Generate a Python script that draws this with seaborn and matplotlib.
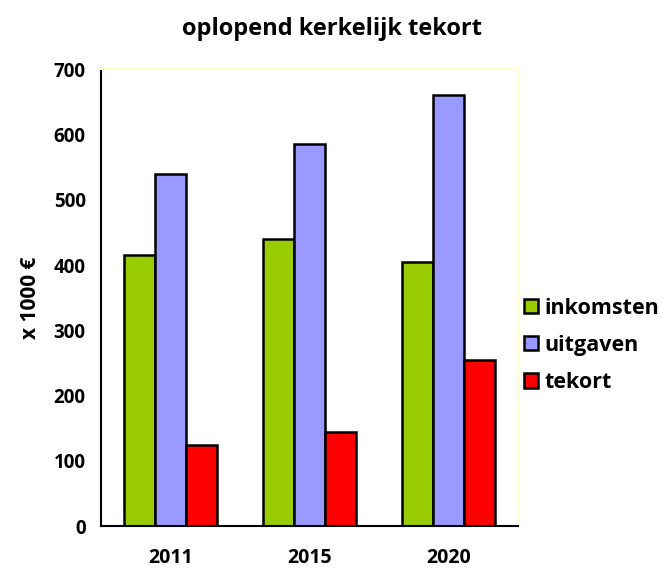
import matplotlib
matplotlib.use("Agg")
import matplotlib.pyplot as plt
import seaborn as sns
import pandas as pd

years = ["2011", "2015", "2020"]
inkomsten = [415, 440, 405]
uitgaven = [540, 585, 660]
tekort = [125, 145, 255]
series_names = ["inkomsten", "uitgaven", "tekort"]
colors = ["#99CC00", "#9999FF", "#FF0000"]

df = pd.DataFrame({
    "jaar": years * 3,
    "serie": [s for s in series_names for _ in years],
    "waarde": inkomsten + uitgaven + tekort,
})

sns.set_style("white")
plt.rcParams["font.family"] = ["Open Sans", "DejaVu Sans"]
plt.rcParams["font.weight"] = "bold"
plt.rcParams["text.color"] = "black"
plt.rcParams["axes.labelcolor"] = "black"
plt.rcParams["xtick.color"] = "black"
plt.rcParams["ytick.color"] = "black"

fig = plt.figure(figsize=(6.64, 5.72), dpi=100)
ax = fig.add_axes([0.152, 0.080, 0.628, 0.799])

sns.barplot(data=df, x="jaar", y="waarde", hue="serie", palette=colors,
            width=0.67, edgecolor="black", linewidth=1.8, saturation=1,
            ax=ax)

ax.set_ylim(0, 700)
ax.set_yticks(range(0, 701, 100))
ax.set_xlim(-0.5, 2.5)
ax.set_xticks([-0.5, 0.5, 1.5, 2.5])
ax.set_xticklabels([])
ax.set_xticks([0, 1, 2], minor=True)
ax.set_xticklabels(years, minor=True, fontsize=14, fontweight="bold")
ax.tick_params(axis="x", which="minor", length=0, pad=16)
ax.tick_params(axis="x", which="major", length=6, width=1.5, direction="out", color="black")
ax.tick_params(axis="y", length=6, width=1.5, direction="out", color="black", labelsize=13.5, pad=5)
for lab in ax.get_yticklabels():
    lab.set_fontweight("bold")

for side in ["left", "bottom"]:
    ax.spines[side].set_color("black")
    ax.spines[side].set_linewidth(1.5)
for side in ["top", "right"]:
    ax.spines[side].set_color("#FFFFCC")
    ax.spines[side].set_linewidth(1.5)

ax.set_xlabel("")
ax.set_ylabel("x 1000 €", fontsize=15, fontweight="bold", labelpad=9)
fig.suptitle("oplopend kerkelijk tekort", fontsize=17, fontweight="bold", y=0.97)

leg = ax.legend(loc="center left", bbox_to_anchor=(0.968, 0.396), frameon=False,
                fontsize=15.5, handlelength=0.65, handleheight=0.65,
                handletextpad=0.3, labelspacing=0.75)
for t in leg.get_texts():
    t.set_fontweight("bold")

fig.savefig("out.png", dpi=100)
